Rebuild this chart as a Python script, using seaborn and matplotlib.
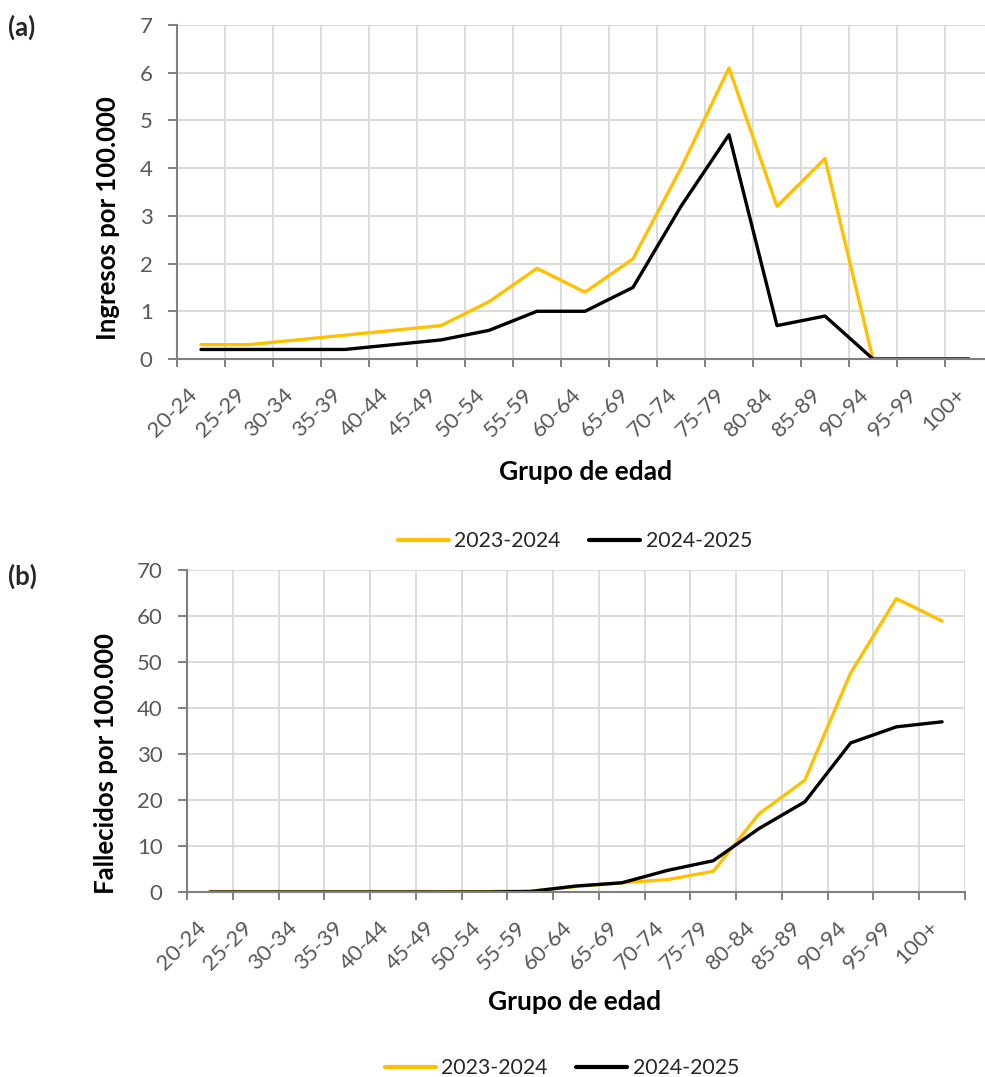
import numpy as np
import pandas as pd
import matplotlib
matplotlib.use("Agg")
import matplotlib.pyplot as plt
import seaborn as sns

# Age groups and rates per 100,000 inhabitants
grupos = ['20-24', '25-29', '30-34', '35-39', '40-44', '45-49', '50-54', '55-59',
          '60-64', '65-69', '70-74', '75-79', '80-84', '85-89', '90-94', '95-99', '100+']
temporadas = ['2023-2024', '2024-2025']

ingresos_2023_2024 = [0.3, 0.3, 0.4, 0.5, 0.6, 0.7, 1.2, 1.9, 1.4, 2.1, 4.0, 6.1, 3.2, 4.2, 0.0, 0.0, 0.0]
ingresos_2024_2025 = [0.2, 0.2, 0.2, 0.2, 0.3, 0.4, 0.6, 1.0, 1.0, 1.5, 3.2, 4.7, 0.7, 0.9, 0.0, 0.0, 0.0]

fallecidos_2023_2024 = [0.0, 0.0, 0.0, 0.0, 0.0, 0.0, 0.1, 0.2, 1.2, 2.0, 2.7, 4.5, 17.0, 24.3, 47.6, 63.8, 58.9]
fallecidos_2024_2025 = [0.0, 0.0, 0.0, 0.0, 0.0, 0.0, 0.0, 0.1, 1.3, 2.0, 4.7, 6.8, 13.8, 19.6, 32.4, 35.9, 37.0]

colores = {'2023-2024': '#FFC000', '2024-2025': '#000000'}

sns.set_theme(style='white')
plt.rcParams['font.family'] = ['Lato', 'DejaVu Sans']


def tabla(serie_a, serie_b):
    return pd.DataFrame({
        'grupo': grupos * 2,
        'valor': list(serie_a) + list(serie_b),
        'temporada': [temporadas[0]] * len(grupos) + [temporadas[1]] * len(grupos),
    })


W, H = 985, 1077
fig = plt.figure(figsize=(W / 100, H / 100), dpi=100)


def fx(px):
    return px / W


def fy(py):
    return 1 - py / H


ax_a = fig.add_axes([fx(177), fy(359), fx(993 - 177), fy(25) - fy(359)])
ax_b = fig.add_axes([fx(187), fy(892), fx(965 - 187), fy(570) - fy(892)])

GRIS = '#808080'


def dibujar(ax, df, ymax, ystep):
    sns.lineplot(data=df, x='grupo', y='valor', hue='temporada', palette=colores,
                 hue_order=temporadas, linewidth=2.4, ax=ax, sort=False)
    ax.set_xlim(-0.5, len(grupos) - 0.5)
    ax.set_ylim(0, ymax)
    ax.set_yticks(np.arange(0, ymax + ystep / 2, ystep))
    ax.set_xticks(np.arange(-0.5, len(grupos), 1.0))
    ax.set_xticklabels([])
    ax.set_xticks(np.arange(len(grupos)), grupos, minor=True)
    ax.set_axisbelow(True)
    ax.grid(True, which='major', color='#d9d9d9', linewidth=1.3)
    ax.grid(False, which='minor')
    ax.tick_params(axis='x', which='major', bottom=True, length=5.5, width=1.4,
                   color=GRIS, direction='out')
    ax.tick_params(axis='x', which='minor', bottom=True, length=0, pad=18.5,
                   labelsize=16, labelcolor='#595959')
    for lbl in ax.get_xticklabels(minor=True):
        lbl.set_rotation(45)
        lbl.set_ha('right')
        lbl.set_va('top')
    ax.tick_params(axis='y', left=True, length=6.5, width=1.4, color=GRIS,
                   direction='out', pad=11, labelsize=16, labelcolor='#595959')
    for s in ['top', 'right']:
        ax.spines[s].set_visible(False)
    for s in ['left', 'bottom']:
        ax.spines[s].set_color(GRIS)
        ax.spines[s].set_linewidth(1.5)
    ax.set_xlabel('')
    ax.set_ylabel('')
    handles, labels = ax.get_legend_handles_labels()
    if ax.get_legend() is not None:
        ax.get_legend().remove()
    return handles, labels


h_a, l_a = dibujar(ax_a, tabla(ingresos_2023_2024, ingresos_2024_2025), 7, 1)
h_b, l_b = dibujar(ax_b, tabla(fallecidos_2023_2024, fallecidos_2024_2025), 70, 10)

# Axis titles
fig.text(fx(108), fy(218), 'Ingresos por 100.000', rotation=90, ha='center', va='center',
         fontsize=18.5, fontweight='bold', color='black')
fig.text(fx(106), fy(764), 'Fallecidos por 100.000', rotation=90, ha='center', va='center',
         fontsize=18.5, fontweight='bold', color='black')
fig.text(fx(586), fy(472), 'Grupo de edad', ha='center', va='center',
         fontsize=19, fontweight='bold', color='black')
fig.text(fx(575), fy(1002), 'Grupo de edad', ha='center', va='center',
         fontsize=19, fontweight='bold', color='black')

# Panel letters
fig.text(fx(8), fy(27), '(a)', ha='left', va='center', fontsize=18.5, fontweight='bold')
fig.text(fx(8), fy(576), '(b)', ha='left', va='center', fontsize=18.5, fontweight='bold')

# Legends
for handles, labels, cx, cy in [(h_a, l_a, 575, 541), (h_b, l_b, 562, 1068)]:
    leg = fig.legend(handles, labels, loc='center', bbox_to_anchor=(fx(cx), fy(cy)),
                     ncol=2, frameon=False, fontsize=15.3, handlelength=2.4,
                     handletextpad=0.25, columnspacing=1.35)
    for t in leg.get_texts():
        t.set_color('#262626')
    for ln in leg.get_lines():
        ln.set_linewidth(3)

fig.savefig('out.png', dpi=100)
